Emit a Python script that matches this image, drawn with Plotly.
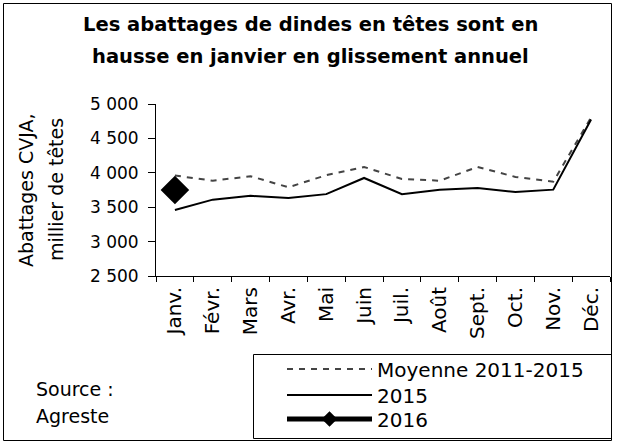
import plotly.graph_objects as go

months = ["Janv.", "Févr.", "Mars", "Avr.", "Mai", "Juin", "Juil.", "Août", "Sept.", "Oct.", "Nov.", "Déc."]
moyenne = [3960, 3885, 3950, 3790, 3965, 4085, 3910, 3885, 4085, 3940, 3870, 4805]
y2015 = [3460, 3610, 3665, 3635, 3690, 3925, 3690, 3755, 3780, 3720, 3755, 4775]
months2016 = ["Janv."]
y2016 = [3750]
yticks = [2500, 3000, 3500, 4000, 4500, 5000]
yticklabels = ["2 500", "3 000", "3 500", "4 000", "4 500", "5 000"]

W, H = 619, 446
L, R, T, B = 156, 610, 104, 276  # plot area in px
pw, ph = R - L, B - T

def px(x):
    return (x - L) / pw

def py(y):
    return (B - y) / ph

FONT = "DejaVu Sans, Verdana, sans-serif"

fig = go.Figure()
fig.add_trace(go.Scatter(x=months, y=moyenne, mode="lines", name="Moyenne 2011-2015",
                         legend="legend",
                         line=dict(color="#444444", width=2, dash="6px,6px")))
fig.add_trace(go.Scatter(x=months, y=y2015, mode="lines", name="2015",
                         legend="legend2",
                         line=dict(color="black", width=2)))
fig.add_trace(go.Scatter(x=months2016, y=y2016, mode="lines+markers", name="2016",
                         legend="legend3",
                         line=dict(color="black", width=5),
                         marker=dict(symbol="diamond", size=22, color="black")))

def leg(ycenter, sizing):
    return dict(x=px(282), y=py(ycenter), xanchor="left", yanchor="middle",
                bgcolor="rgba(0,0,0,0)", borderwidth=0,
                font=dict(family=FONT, size=20, color="black"),
                itemwidth=85, itemsizing=sizing)

fig.update_layout(
    width=W, height=H,
    margin=dict(l=L, r=W - R, t=T, b=H - B, autoexpand=False),
    paper_bgcolor="white", plot_bgcolor="white",
    font=dict(family=FONT, size=18, color="black"),
    showlegend=True,
    legend=leg(369, "trace"),
    legend2=leg(395, "trace"),
    legend3=leg(419, "constant"),
    xaxis=dict(type="category", categoryorder="array", categoryarray=months,
               range=[-0.5, 11.5], showgrid=False, zeroline=False,
               showline=True, linecolor="black", linewidth=1,
               ticks="outside", ticklen=5, tickcolor="black", tickson="boundaries",
               tickangle=-90, ticklabelstandoff=2, tickfont=dict(family=FONT, size=20)),
    yaxis=dict(range=[2500, 5000], tickvals=yticks, ticktext=yticklabels,
               showgrid=False, zeroline=False, showline=True, linecolor="black",
               linewidth=1, ticks="outside", ticklen=7, tickcolor="black",
               ticklabelstandoff=6, tickfont=dict(family=FONT, size=17)),
    shapes=[
        dict(type="rect", xref="paper", yref="paper",
             x0=px(3.5), x1=px(611.5), y0=py(440.5), y1=py(3.5),
             line=dict(color="black", width=1)),
        dict(type="rect", xref="paper", yref="paper",
             x0=px(253.5), x1=px(611.5), y0=py(438.5), y1=py(354.5),
             line=dict(color="black", width=1)),
    ],
    annotations=[
        dict(text="<b>Les abattages de dindes en têtes sont en</b>", x=px(310), y=py(24),
             xref="paper", yref="paper", showarrow=False, xanchor="center", yanchor="middle",
             font=dict(family=FONT, size=19.5)),
        dict(text="<b>hausse en janvier en glissement annuel</b>", x=px(310), y=py(57),
             xref="paper", yref="paper", showarrow=False, xanchor="center", yanchor="middle",
             font=dict(family=FONT, size=19.5)),
        dict(text="Abattages CVJA,", x=px(26), y=py(190), xref="paper", yref="paper",
             showarrow=False, textangle=-90, xanchor="center", yanchor="middle",
             font=dict(family=FONT, size=19)),
        dict(text="millier de têtes", x=px(56), y=py(190), xref="paper", yref="paper",
             showarrow=False, textangle=-90, xanchor="center", yanchor="middle",
             font=dict(family=FONT, size=19)),
        dict(text="Source :", x=px(34), y=py(389), xref="paper", yref="paper",
             showarrow=False, xanchor="left", yanchor="middle", font=dict(family=FONT, size=19)),
        dict(text="Agreste", x=px(34), y=py(416), xref="paper", yref="paper",
             showarrow=False, xanchor="left", yanchor="middle", font=dict(family=FONT, size=19)),
    ],
)

fig.write_html("out.html", config={"displayModeBar": False},
               post_script="document.body.style.margin='0';document.body.style.padding='0';")
